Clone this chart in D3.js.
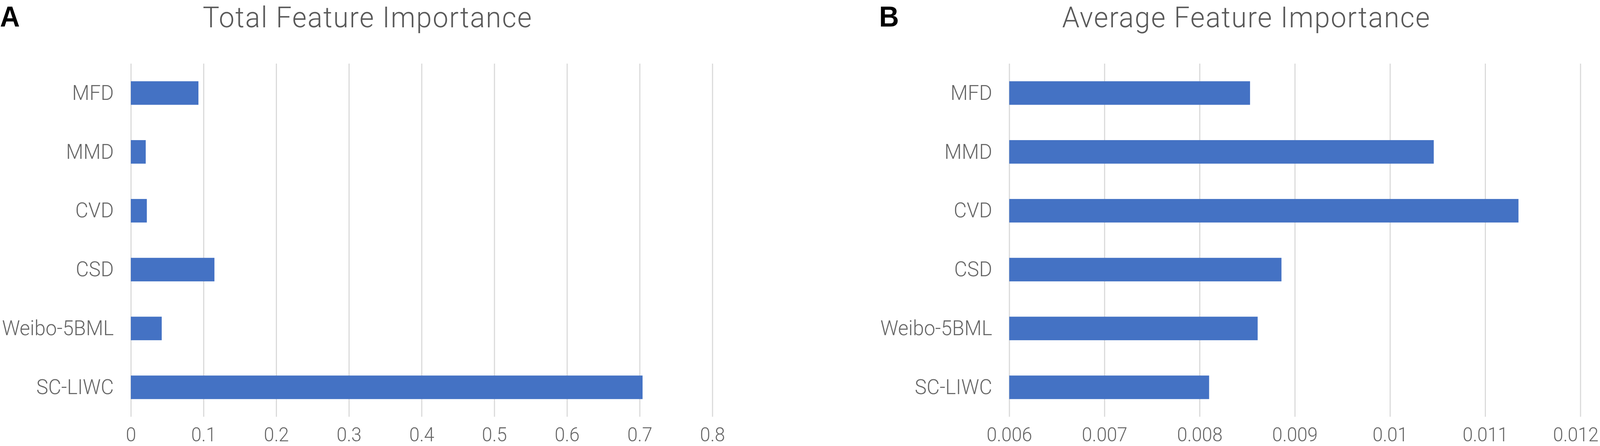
<!DOCTYPE html>
<html>
<head>
<meta charset="utf-8">
<script src="https://cdn.jsdelivr.net/npm/d3@7"></script>
<style>
  html, body { margin: 0; padding: 0; background: #fff; overflow: hidden; }
  svg { display: block; }
  svg text { font-family: Roboto, "Noto Sans", sans-serif; }
</style>
</head>
<body>
<div id="chart"></div>
<script>
// data
var categories = ["MFD", "MMD", "CVD", "CSD", "Weibo-5BML", "SC-LIWC"];
var totalImportance = [0.093, 0.0205, 0.022, 0.115, 0.0425, 0.704];
var averageImportance = [0.00853, 0.01046, 0.01135, 0.00886, 0.00861, 0.00810];
var ticksA = [0, 0.1, 0.2, 0.3, 0.4, 0.5, 0.6, 0.7, 0.8];
var ticksB = [0.006, 0.007, 0.008, 0.009, 0.01, 0.011, 0.012];

var svgWidth = 4317;
var svgHeight = 1143;
var textColor = "#666666";
var barColor = "#4472C4";
var gridColor = "#d9d9d9";

// the window may be narrower than the chart, so draw in chart units and fit to it
var svg = d3.select("#chart").append("svg")
    .attr("viewBox", "0 0 " + svgWidth + " " + svgHeight)
    .attr("preserveAspectRatio", "none")
    .style("width", "100vw")
    .style("height", "100vh");

// one panel = letter, title, grid, bars, labels
function drawPanel(opt) {
    var x = d3.scaleLinear()
        .domain([opt.ticks[0], opt.ticks[opt.ticks.length - 1]])
        .range([opt.left, opt.right]);

    var y = d3.scaleBand()
        .domain(categories)
        .range([163, 1068])
        .paddingInner(0.6)
        .paddingOuter(0.3);

    var g = svg.append("g");

    // vertical gridlines
    var grid = g.append("g")
        .attr("transform", "translate(0,1068)")
        .call(d3.axisBottom(x).tickValues(opt.ticks).tickSize(-905).tickFormat(""));
    grid.select(".domain").remove();
    grid.selectAll("line").attr("stroke", gridColor).attr("stroke-width", 3);

    // bars
    g.selectAll("rect.bar")
        .data(opt.values)
        .enter().append("rect")
        .attr("class", "bar")
        .attr("x", x(opt.ticks[0]))
        .attr("y", (d, i) => y(categories[i]))
        .attr("width", d => x(d) - x(opt.ticks[0]))
        .attr("height", y.bandwidth())
        .attr("fill", barColor);

    // x tick labels
    var xAxis = g.append("g")
        .attr("transform", "translate(0,1131)")
        .call(d3.axisBottom(x).tickValues(opt.ticks).tickSize(0).tickPadding(0).tickFormat(d3.format("~g")));
    xAxis.select(".domain").remove();
    xAxis.selectAll("text")
        .attr("font-size", 50)
        .attr("font-weight", 300)
        .attr("fill", textColor)
        .attr("dy", 0);

    // keep the last label inside the page
    xAxis.selectAll("text").each(function() {
        var b = this.getBBox();
        var tx = this.parentNode.transform.baseVal.consolidate().matrix.e;
        var over = tx + b.x + b.width - (svgWidth - 4);
        if (over > 0) d3.select(this).attr("dx", -over);
    });

    // category labels
    var yAxis = g.append("g")
        .attr("transform", "translate(" + opt.left + ",0)")
        .call(d3.axisLeft(y).tickSize(0).tickPadding(46));
    yAxis.select(".domain").remove();
    yAxis.selectAll("text")
        .attr("font-size", 54)
        .attr("font-weight", 300)
        .attr("fill", textColor);

    // title
    g.append("text")
        .attr("x", opt.titleX)
        .attr("y", 70)
        .attr("text-anchor", "middle")
        .attr("font-size", 75)
        .attr("font-weight", 300)
        .attr("letter-spacing", 2.5)
        .attr("fill", "#595959")
        .text(opt.title);

    // panel letter
    g.append("text")
        .attr("x", opt.letterX)
        .attr("y", 68)
        .attr("font-size", 74)
        .attr("font-weight", "bold")
        .attr("fill", "#000")
        .style("font-family", "'Liberation Sans', Arial, sans-serif")
        .text(opt.letter);
}

drawPanel({
    values: totalImportance, ticks: ticksA,
    left: 353, right: 1922,
    title: "Total Feature Importance", titleX: 992,
    letter: "A", letterX: 0
});

drawPanel({
    values: averageImportance, ticks: ticksB,
    left: 2723, right: 4264,
    title: "Average Feature Importance", titleX: 3363,
    letter: "B", letterX: 2372
});
</script>
</body>
</html>
